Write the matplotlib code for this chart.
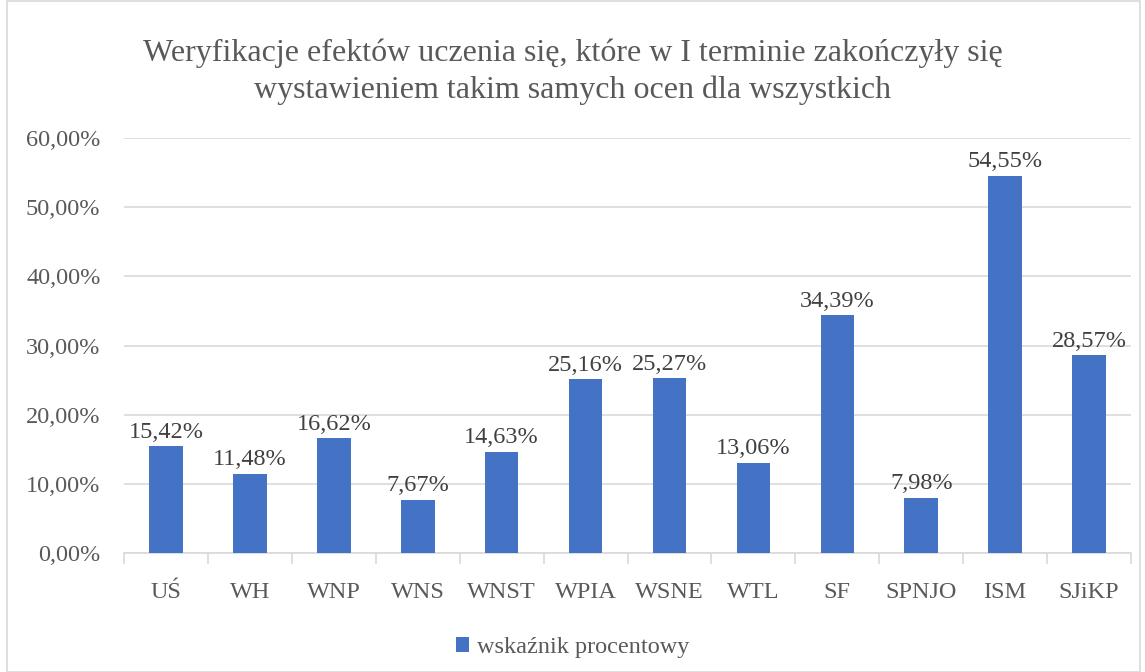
import numpy as np
import matplotlib.pyplot as plt
from matplotlib.patches import Rectangle

categories = ['UŚ', 'WH', 'WNP', 'WNS', 'WNST', 'WPIA', 'WSNE', 'WTL', 'SF', 'SPNJO', 'ISM', 'SJiKP']
values = [15.42, 11.48, 16.62, 7.67, 14.63, 25.16, 25.27, 13.06, 34.39, 7.98, 54.55, 28.57]
yticks = [0, 10, 20, 30, 40, 50, 60]
title = 'Weryfikacje efektów uczenia się, które w I terminie zakończyły się\nwystawieniem takim samych ocen dla wszystkich'
series_name = 'wskaźnik procentowy'

plt.rcParams['font.family'] = ['Liberation Serif', 'DejaVu Serif']
text_color = '#595959'
bar_color = '#4472C4'
grid_color = '#D9D9D9'

fig = plt.figure(figsize=(11.45, 6.72), dpi=100)
ax = fig.add_axes([0.1083, 0.1771, 0.8795, 0.6175])

x = np.arange(len(categories))
bars = ax.bar(x, values, width=0.4, color=bar_color, label=series_name, zorder=3)

for xi, v in zip(x, values):
    ax.text(xi, v + 0.5, f'{v:.2f}%'.replace('.', ','), ha='center', va='bottom',
            fontsize=17.5, color='#404040')

ax.set_xlim(-0.5, len(categories) - 0.5)
ax.set_ylim(0, 60)
ax.set_yticks(yticks)
ax.set_yticklabels([f'{t:.2f}%'.replace('.', ',') for t in yticks], fontsize=17.5, color=text_color)
ax.set_xticks(x)
ax.set_xticklabels(categories, fontsize=17.5, color=text_color)
ax.tick_params(axis='y', length=0, pad=17)
ax.tick_params(axis='x', length=0, pad=21)

# small separators between categories
ax.set_xticks(np.arange(len(categories) + 1) - 0.5, minor=True)
ax.tick_params(axis='x', which='minor', length=8, color=grid_color, width=1.2)

ax.grid(axis='y', color=grid_color, linewidth=1.2, zorder=0)
for s in ['top', 'right', 'left']:
    ax.spines[s].set_visible(False)
ax.spines['bottom'].set_color(grid_color)
ax.spines['bottom'].set_linewidth(1.2)

fig.suptitle(title, fontsize=23, color=text_color, y=0.943, linespacing=1.35)

fig.legend(loc='lower center', bbox_to_anchor=(0.5, -0.012), frameon=False, fontsize=17.5,
           handlelength=0.55, handleheight=0.55, handletextpad=0.3, labelcolor=text_color)

fig.patches.append(Rectangle((0.006, 0.0), 0.99, 0.999, transform=fig.transFigure,
                             fill=False, edgecolor=grid_color, linewidth=1.2))

fig.savefig('out.png', dpi=100)
